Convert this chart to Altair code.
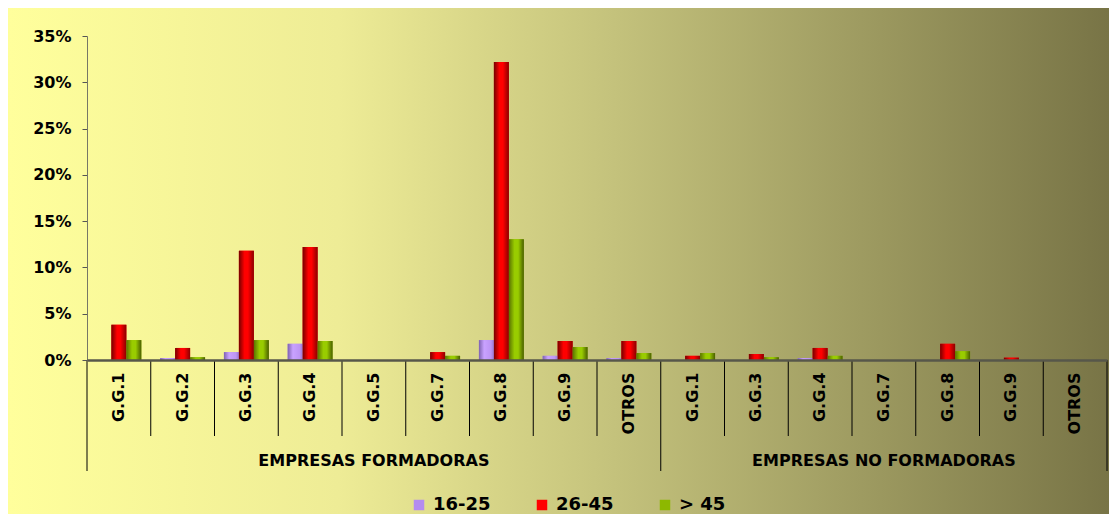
import altair as alt
import pandas as pd

groups = ["EMPRESAS FORMADORAS"] * 9 + ["EMPRESAS NO FORMADORAS"] * 7
cats = ["G.G.1", "G.G.2", "G.G.3", "G.G.4", "G.G.5", "G.G.7", "G.G.8", "G.G.9", "OTROS",
        "G.G.1", "G.G.3", "G.G.4", "G.G.7", "G.G.8", "G.G.9", "OTROS"]
series = ["16-25", "26-45", "> 45"]
v_16_25 = [0, 0.2, 0.85, 1.75, 0, 0, 2.15, 0.45, 0.2, 0, 0, 0.2, 0, 0, 0, 0]
v_26_45 = [3.8, 1.3, 11.8, 12.2, 0, 0.85, 32.2, 2.05, 2.05, 0.45, 0.65, 1.3, 0, 1.75, 0.25, 0]
v_45 = [2.15, 0.3, 2.15, 2.05, 0, 0.45, 13.05, 1.4, 0.75, 0.75, 0.3, 0.45, 0, 0.95, 0, 0]
y_ticks = [0, 0.05, 0.10, 0.15, 0.20, 0.25, 0.30, 0.35]

keys = [f"{i:02d}|{c}" for i, c in enumerate(cats)]
rows = []
for i, k in enumerate(keys):
    for s, vals in zip(series, [v_16_25, v_26_45, v_45]):
        rows.append({"key": k, "cat": cats[i], "grupo": groups[i], "serie": s, "valor": vals[i] / 100})
df = pd.DataFrame(rows)

W, H = 1020, 324
FONT = "DejaVu Sans"

x_axis = alt.Axis(title=None, labelExpr="split(datum.label, '|')[1]", labelAngle=270,
                  labelAlign="right", labelBaseline="middle", labelPadding=12, ticks=False,
                  domainColor="#57574a", domainWidth=2.5, labelFont=FONT, labelFontSize=16,
                  labelFontWeight="bold", labelColor="black", labelOverlap=False, zindex=2)


def xenc(band=None):
    kw = {}
    if band is not None:
        kw["bandPosition"] = band
    return alt.X("key:N", sort=keys, scale=alt.Scale(domain=keys, paddingInner=0, paddingOuter=0),
                 axis=x_axis, **kw)


y_enc = alt.Y("valor:Q", scale=alt.Scale(domain=[0, 0.35]),
              axis=alt.Axis(title=None, format=".0%", values=y_ticks, grid=False, tickSize=5,
                            tickColor="#555555", domainColor="#777766", labelPadding=11,
                            labelFont=FONT, labelFontSize=16, labelFontWeight="bold",
                            labelColor="black", zindex=1))
xoff = alt.XOffset("serie:N", sort=series,
                   scale=alt.Scale(domain=series, paddingOuter=0.63, paddingInner=0))


def grad(stops):
    return alt.LinearGradient(gradient="linear", x1=0, x2=1, y1=0, y2=0,
                              stops=[alt.GradientStop(offset=o, color=c) for o, c in stops])


bg = alt.Chart(pd.DataFrame({"a": [0]})).mark_rect(
    color=grad([(0, "#FFFF9C"), (0.3, "#EEEC96"), (0.55, "#C4C27C"), (1, "#787446")])
).encode(x=alt.value(-79), x2=alt.value(W + 2), y=alt.value(-28), y2=alt.value(478))

base = alt.Chart(df)

solid = base.mark_bar().encode(
    x=xenc(), xOffset=xoff, y=y_enc,
    color=alt.Color("serie:N", scale=alt.Scale(domain=series, range=["#B48CF0", "#FF0000", "#8DB800"]),
                    legend=alt.Legend(orient="none", direction="horizontal", legendX=323, legendY=460,
                                      title=None, symbolType="square", symbolSize=110,
                                      symbolStrokeWidth=0, labelFont=FONT, labelFontSize=18,
                                      labelFontWeight="bold", labelColor="black",
                                      columnPadding=42, labelOffset=5, padding=0))
)

grads = {
    "16-25": grad([(0, "#7E62B0"), (0.35, "#C9A2FF"), (0.8, "#BD95F4"), (1, "#9A78CF")]),
    "26-45": grad([(0, "#750000"), (0.38, "#FF0000"), (0.6, "#FF0000"), (1, "#8A0000")]),
    "> 45": grad([(0, "#5A7300"), (0.38, "#99CC00"), (0.62, "#99CC00"), (1, "#4A5E00")]),
}
grad_layers = [
    base.transform_filter(alt.datum.serie == s).mark_bar(color=grads[s]).encode(
        x=xenc(), xOffset=xoff, y=y_enc)
    for s in series
]

short_keys = [k for i, k in enumerate(keys) if i not in (0, 9)]
rules_short = alt.Chart(pd.DataFrame({"key": short_keys})).mark_rule(color="black", strokeWidth=1).encode(
    x=xenc(0), y=alt.value(H), y2=alt.value(H + 76))
rules_long = alt.Chart(pd.DataFrame({"key": [keys[0], keys[9]]})).mark_rule(color="black", strokeWidth=1).encode(
    x=xenc(0), y=alt.value(H), y2=alt.value(H + 111))
rule_end = alt.Chart(pd.DataFrame({"key": [keys[15]]})).mark_rule(color="black", strokeWidth=1).encode(
    x=xenc(1), y=alt.value(H), y2=alt.value(H + 111))

grp_df = pd.DataFrame({"key": [keys[4], keys[12]], "label": ["EMPRESAS FORMADORAS", "EMPRESAS NO FORMADORAS"]})
grp_text = alt.Chart(grp_df).mark_text(font=FONT, fontSize=16, fontWeight="bold", color="black",
                                        baseline="middle", align="center").encode(
    x=xenc(), y=alt.value(H + 101), text="label:N")

chart = alt.layer(bg, solid, *grad_layers, rules_short, rules_long, rule_end, grp_text).properties(
    width=W, height=H, padding=0
).configure_view(strokeWidth=0).configure(font=FONT)

chart.save("out.html", embed_options={"renderer": "svg", "actions": False})
